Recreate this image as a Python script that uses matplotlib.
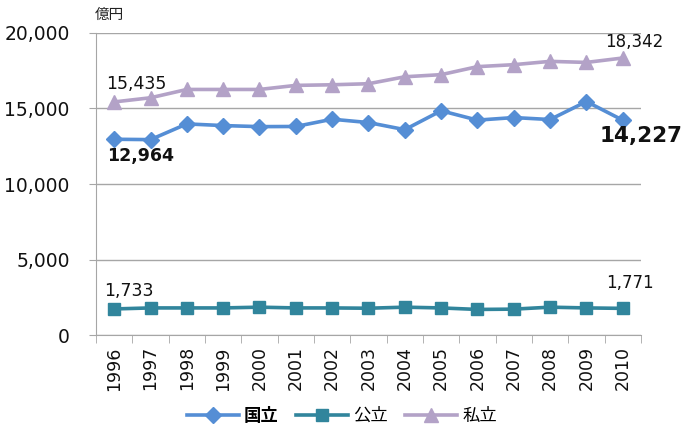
import matplotlib
matplotlib.use('Agg')
import matplotlib.pyplot as plt

plt.rcParams['font.family'] = ['DejaVu Sans', 'Noto Sans CJK JP']

years = ['1996', '1997', '1998', '1999', '2000', '2001', '2002', '2003',
         '2004', '2005', '2006', '2007', '2008', '2009', '2010']
kokuritsu = [12964, 12940, 13980, 13870, 13800, 13810, 14290, 14070,
             13600, 14850, 14230, 14400, 14270, 15460, 14227]
kouritsu = [1733, 1800, 1800, 1800, 1850, 1800, 1800, 1780,
            1850, 1800, 1700, 1720, 1850, 1800, 1771]
shiritsu = [15435, 15710, 16260, 16260, 16260, 16530, 16570, 16640,
            17100, 17240, 17770, 17900, 18120, 18050, 18342]
series_names = ['国立', '公立', '私立']

c_blue = '#558ED5'
c_teal = '#31859C'
c_purple = '#B3A2C7'
grid_c = '#A6A6A6'

fig = plt.figure(figsize=(6.84, 4.28), dpi=100)
ax = fig.add_axes([0.1404, 0.217, 0.7966, 0.706])

x = list(range(len(years)))
ax.plot(x, kokuritsu, color=c_blue, lw=2.6, marker='D', ms=8, label=series_names[0])
ax.plot(x, kouritsu, color=c_teal, lw=2.6, marker='s', ms=9, label=series_names[1])
ax.plot(x, shiritsu, color=c_purple, lw=2.6, marker='^', ms=10, label=series_names[2])

ax.set_xlim(-0.5, len(years) - 0.5)
ax.set_ylim(0, 20000)
ax.set_yticks([0, 5000, 10000, 15000, 20000])
ax.set_yticklabels(['0', '5,000', '10,000', '15,000', '20,000'], fontsize=13.5, color='#111111')
ax.yaxis.grid(True, color=grid_c, lw=1)
ax.set_axisbelow(True)

ax.set_xticks(x)
ax.set_xticklabels(years, rotation=90, fontsize=12.5, color='#111111')
ax.set_xticks([i - 0.5 for i in range(len(years) + 1)], minor=True)
ax.tick_params(axis='x', which='major', length=0, pad=8)
ax.tick_params(axis='x', which='minor', length=6, color=grid_c)
ax.tick_params(axis='y', length=5, color=grid_c, pad=14)

for s in ['top', 'right']:
    ax.spines[s].set_visible(False)
ax.spines['left'].set_color(grid_c)
ax.spines['bottom'].set_color(grid_c)

# data labels
ax.annotate(f'{shiritsu[0]:,}', (0, shiritsu[0]), xytext=(-6, 9), textcoords='offset points',
            fontsize=12.5, color='#111111')
ax.annotate(f'{shiritsu[-1]:,}', (14, shiritsu[-1]), xytext=(-13, 8), textcoords='offset points',
            fontsize=12, color='#111111')
ax.annotate(f'{kokuritsu[0]:,}', (0, kokuritsu[0]), xytext=(-5, -16), textcoords='offset points',
            fontsize=12.5, fontweight='bold', color='#111111')
ax.annotate(f'{kokuritsu[-1]:,}', (14, kokuritsu[-1]), xytext=(-17, -16), textcoords='offset points',
            fontsize=15.5, fontweight='bold', color='#111111')
ax.annotate(f'{kouritsu[0]:,}', (0, kouritsu[0]), xytext=(-7, 9), textcoords='offset points',
            fontsize=12.5, color='#111111')
ax.annotate(f'{kouritsu[-1]:,}', (14, kouritsu[-1]), xytext=(-12, 15), textcoords='offset points',
            fontsize=12, color='#111111')

fig.text(0.139, 0.955, '億円', fontsize=10.5, family=['Noto Sans CJK JP', 'DejaVu Sans'], color='#222222')

leg = fig.legend(loc='center', bbox_to_anchor=(0.5, 0.028), ncol=3, frameon=False,
                 prop={'family': ['Noto Sans CJK JP', 'DejaVu Sans'], 'size': 12.5},
                 handlelength=3.0, columnspacing=1.0, handletextpad=0.3)
leg.get_texts()[0].set_fontweight('bold')

fig.savefig('out.png', dpi=100)
